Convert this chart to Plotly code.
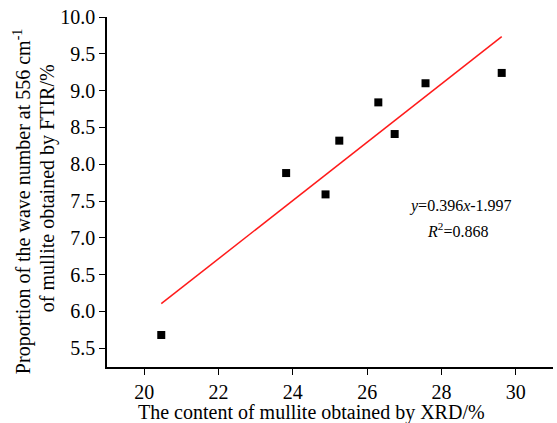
import plotly.graph_objects as go

xrd = [20.46, 23.82, 24.88, 25.25, 26.30, 26.74, 27.57, 29.62]
ftir = [5.68, 7.88, 7.59, 8.32, 8.84, 8.41, 9.10, 9.24]
slope = 0.396
intercept = -1.997
r2 = 0.868
x_ticks = [20, 22, 24, 26, 28, 30]
y_ticks = [5.5, 6.0, 6.5, 7.0, 7.5, 8.0, 8.5, 9.0, 9.5, 10.0]

fx = [min(xrd), max(xrd)]
fy = [slope * v + intercept for v in fx]

FONT = "Liberation Serif, Times New Roman, serif"

fig = go.Figure()
fig.add_trace(go.Scatter(x=fx, y=fy, mode="lines",
                         line=dict(color="#ff1a1a", width=1.5), showlegend=False))
fig.add_trace(go.Scatter(x=xrd, y=ftir, mode="markers",
                         marker=dict(symbol="square", size=8, color="black"),
                         showlegend=False))

fig.add_annotation(x=28.51, y=7.43, xref="x", yref="y",
                   text=f"<i>y</i>={slope}<i>x</i>{intercept}", showarrow=False,
                   font=dict(family=FONT, size=16, color="black"))
fig.add_annotation(x=28.43, y=7.11, xref="x", yref="y",
                   text=f"<i>R</i><sup>2</sup>={r2}", showarrow=False,
                   font=dict(family=FONT, size=16, color="black"))

# y-axis title (two lines)
fig.add_annotation(x=0, y=0.471, xref="paper", yref="paper", xshift=-85,
                   text="Proportion of the wave number at 556 cm<sup>-1</sup>",
                   textangle=-90, showarrow=False, xanchor="center", yanchor="middle",
                   font=dict(family=FONT, size=20, color="black"))
fig.add_annotation(x=0, y=0.511, xref="paper", yref="paper", xshift=-60,
                   text="of mullite obtained by FTIR/%",
                   textangle=-90, showarrow=False, xanchor="center", yanchor="middle",
                   font=dict(family=FONT, size=20, color="black"))
# x-axis title
fig.add_annotation(xref="paper", x=(311 - 107) / 446, yref="paper", y=(367 - 412) / 350,
                   text="The content of mullite obtained by XRD/%",
                   showarrow=False, xanchor="center", yanchor="middle",
                   font=dict(family=FONT, size=20, color="black"))

fig.update_layout(
    width=557, height=423,
    margin=dict(l=107, r=4, t=17, b=56),
    paper_bgcolor="white", plot_bgcolor="white",
    font=dict(family=FONT, size=20, color="black"),
    xaxis=dict(range=[19, 31], tickvals=x_ticks, ticks="outside", ticklen=6,
               tickwidth=1.2, tickcolor="black", showline=True, linecolor="black",
               linewidth=1.5, showgrid=False, zeroline=False,
               tickfont=dict(family=FONT, size=20, color="black")),
    yaxis=dict(range=[5.245, 10.0], tickvals=y_ticks, tickformat=".1f",
               ticks="outside", ticklen=6, tickwidth=1.2, tickcolor="black",
               showline=True, linecolor="black", linewidth=1.5, showgrid=False,
               zeroline=False,
               tickfont=dict(family=FONT, size=20, color="black")),
)

fig.write_html("out.html")
